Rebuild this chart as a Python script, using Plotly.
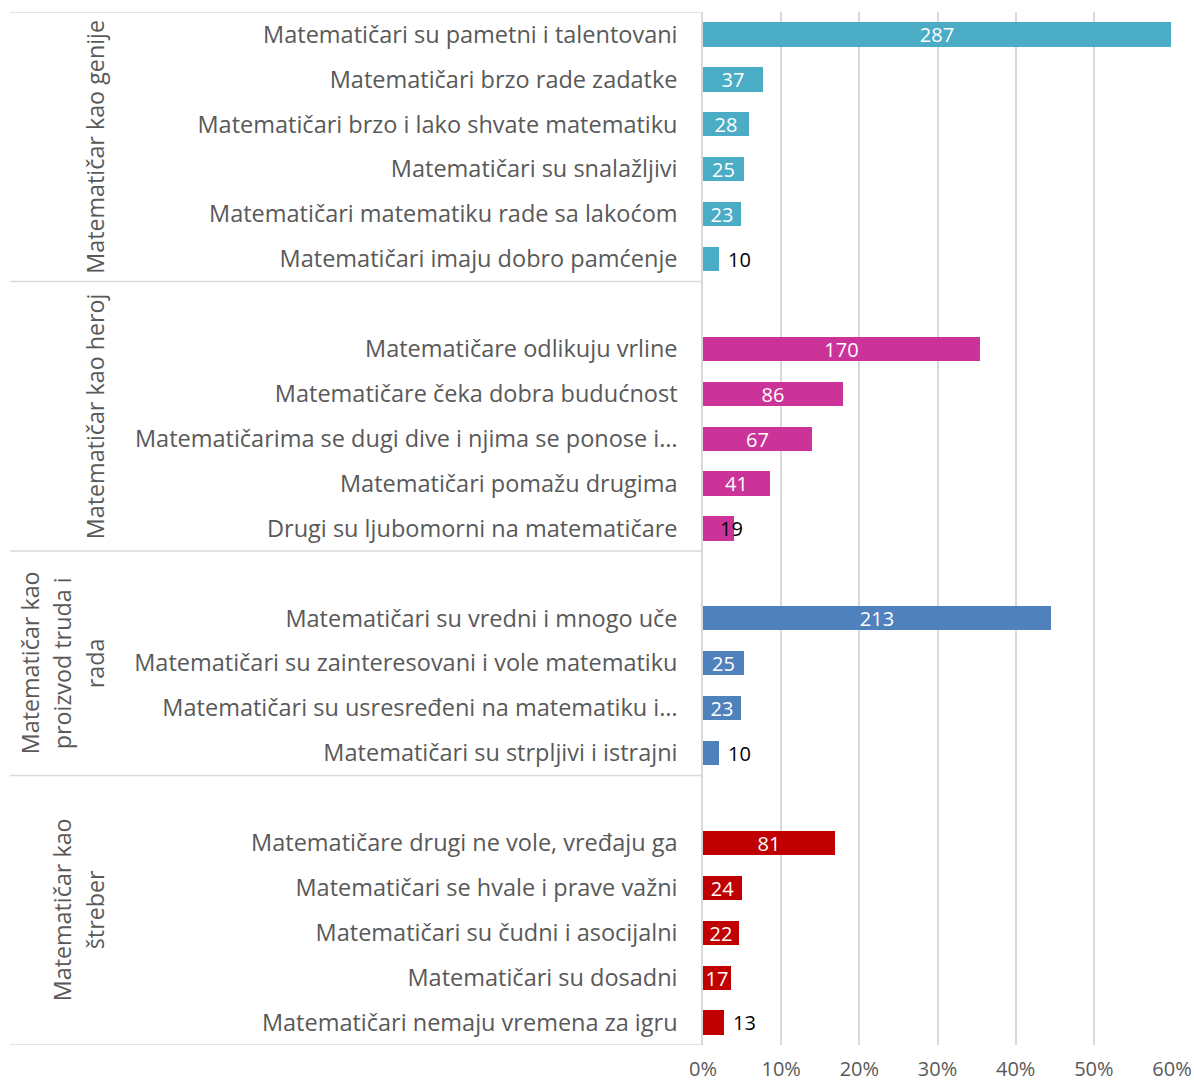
import plotly.graph_objects as go

# Survey answers: how students picture mathematicians (counts of responses)
RESPONDENTS = 479

groups = [
    "Matematičar kao genije",
    "Matematičar kao heroj",
    "Matematičar kao proizvod truda i rada",
    "Matematičar kao štreber",
]
group_lines = [
    ["Matematičar kao genije"],
    ["Matematičar kao heroj"],
    ["Matematičar kao", "proizvod truda i", "rada"],
    ["Matematičar kao", "štreber"],
]
group_colors = ["#4BACC6", "#CC3399", "#4F81BD", "#C00000"]

genije_items = [
    "Matematičari su pametni i talentovani",
    "Matematičari brzo rade zadatke",
    "Matematičari brzo i lako shvate matematiku",
    "Matematičari su snalažljivi",
    "Matematičari matematiku rade sa lakoćom",
    "Matematičari imaju dobro pamćenje",
]
genije_counts = [287, 37, 28, 25, 23, 10]

heroj_items = [
    "Matematičare odlikuju vrline",
    "Matematičare čeka dobra budućnost",
    "Matematičarima se dugi dive i njima se ponose i…",
    "Matematičari pomažu drugima",
    "Drugi su ljubomorni na matematičare",
]
heroj_counts = [170, 86, 67, 41, 19]

trud_items = [
    "Matematičari su vredni i mnogo uče",
    "Matematičari su zainteresovani i vole matematiku",
    "Matematičari su usresređeni na matematiku i…",
    "Matematičari su strpljivi i istrajni",
]
trud_counts = [213, 25, 23, 10]

streber_items = [
    "Matematičare drugi ne vole, vređaju ga",
    "Matematičari se hvale i prave važni",
    "Matematičari su čudni i asocijalni",
    "Matematičari su dosadni",
    "Matematičari nemaju vremena za igru",
]
streber_counts = [81, 24, 22, 17, 13]

x_ticks = [0, 0.1, 0.2, 0.3, 0.4, 0.5, 0.6]
x_ticklabels = ["0%", "10%", "20%", "30%", "40%", "50%", "60%"]

all_items = [genije_items, heroj_items, trud_items, streber_items]
all_counts = [genije_counts, heroj_counts, trud_counts, streber_counts]

FONT = "Open Sans"
GREY_TEXT = "#595959"
GRID = "#D9D9D9"

W, H = 1194, 1084
M_L, M_R, M_T, M_B = 703, 22, 12, 39
plot_w = W - M_L - M_R

fig = go.Figure()

# Row slots: each group after the first starts with an empty slot
slot = 0
tickvals, ticktext = [], []
group_spans = []
annotations = []
for gi, (items, counts) in enumerate(zip(all_items, all_counts)):
    start = slot - 0.5
    if gi > 0:
        slot += 1
    ys = list(range(slot, slot + len(items)))
    slot += len(items)
    group_spans.append((start, slot - 0.5))
    tickvals += ys
    ticktext += items
    pct = [c / RESPONDENTS for c in counts]

    positions, colors, texts = [], [], []
    for c, p, y in zip(counts, pct, ys):
        if c <= 13:
            # short bars: value written just past the bar end
            positions.append("none")
            colors.append("black")
            texts.append("")
            annotations.append(dict(x=p, y=y, xref="x", yref="y", text=str(c),
                                    showarrow=False, xanchor="left", xshift=7,
                                    font=dict(family=FONT, size=20, color="black")))
        elif c == 19:
            # label sits over the bar end in dark text
            positions.append("none")
            colors.append("black")
            texts.append("")
            annotations.append(dict(x=p, y=y, xref="x", yref="y", text=str(c),
                                    showarrow=False, xanchor="center", xshift=-3,
                                    font=dict(family=FONT, size=20, color="black")))
        else:
            positions.append("inside")
            colors.append("white")
            texts.append(str(c))

    fig.add_trace(go.Bar(
        x=pct, y=ys, orientation="h",
        marker=dict(color=group_colors[gi], line=dict(width=0)),
        width=0.54,
        text=texts, textposition=positions,
        insidetextanchor="middle", textangle=0, constraintext="none",
        textfont=dict(family=FONT, size=20, color=colors),
        cliponaxis=False,
        showlegend=False,
        hoverinfo="skip",
    ))

n_slots = slot


def px_to_paper(px):
    return (px - M_L) / plot_w


# Group separators in the label area
shapes = []
bounds = [group_spans[0][0]] + [s[1] for s in group_spans]
for b in bounds:
    shapes.append(dict(type="line", xref="paper", yref="y",
                       x0=px_to_paper(10), x1=0, y0=b, y1=b,
                       line=dict(color=GRID, width=1.5), layer="below"))

# Rotated group titles, one annotation per line
line_centers = {1: [95], 2: [62, 95], 3: [30, 62, 95]}
for gi, lines in enumerate(group_lines):
    y_mid = (group_spans[gi][0] + group_spans[gi][1]) / 2
    for li, txt in enumerate(lines):
        cx = line_centers[len(lines)][li]
        annotations.append(dict(
            x=px_to_paper(cx), y=y_mid, xref="paper", yref="y",
            text=txt, textangle=-90, showarrow=False,
            xanchor="center", yanchor="middle",
            font=dict(family=FONT, size=23.3, color=GREY_TEXT),
        ))

fig.update_layout(
    width=W, height=H,
    margin=dict(l=M_L, r=M_R, t=M_T, b=M_B, autoexpand=False),
    paper_bgcolor="white", plot_bgcolor="white",
    bargap=0,
    shapes=shapes,
    annotations=annotations,
    xaxis=dict(
        range=[0, 0.6], tickvals=x_ticks, ticktext=x_ticklabels,
        showgrid=True, gridcolor=GRID, gridwidth=1.5,
        zeroline=False, showline=False, automargin=False,
        ticks="", ticklabelstandoff=10,
        tickfont=dict(family=FONT, size=20, color=GREY_TEXT),
    ),
    yaxis=dict(
        range=[n_slots - 0.5, -0.5],
        tickvals=tickvals, ticktext=ticktext,
        showgrid=False, zeroline=False, automargin=False,
        showline=True, linecolor=GRID, linewidth=1.5,
        ticks="", ticklabelstandoff=19,
        tickfont=dict(family=FONT, size=23.5, color=GREY_TEXT),
    ),
)

fig.write_html("out.html")
